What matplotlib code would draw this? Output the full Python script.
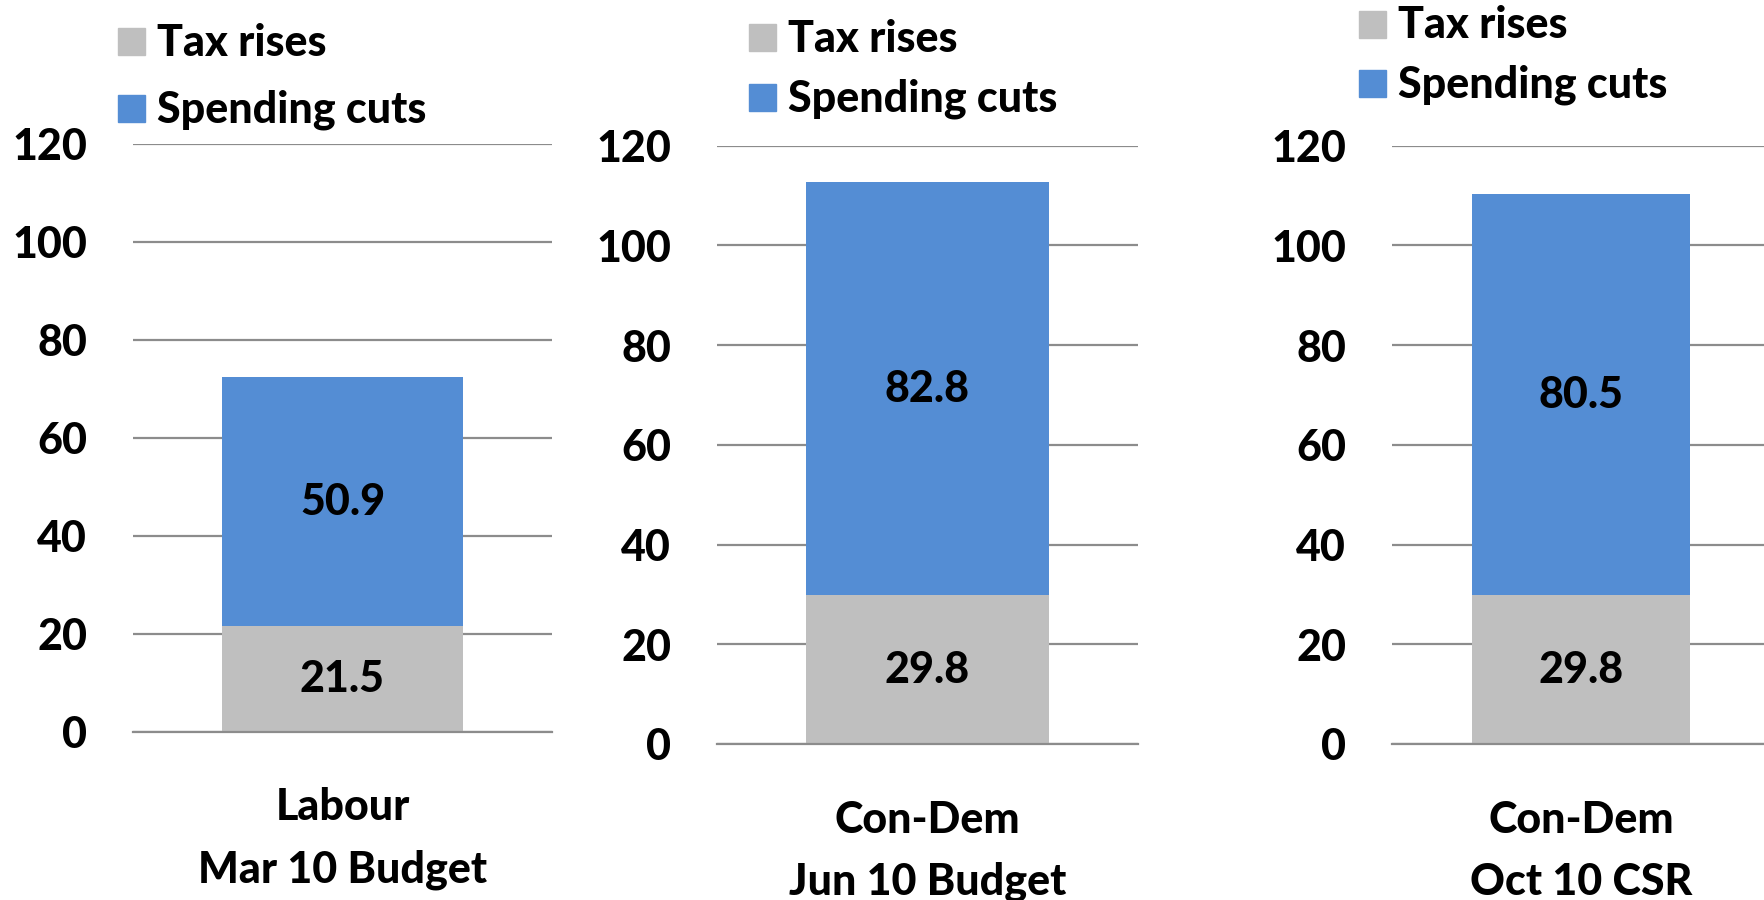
import matplotlib
matplotlib.use("Agg")
import matplotlib.pyplot as plt
from matplotlib.patches import Rectangle

plt.rcParams['font.family'] = ['Lato', 'DejaVu Sans']

categories = ["Labour\nMar 10 Budget", "Con-Dem\nJun 10 Budget", "Con-Dem\nOct 10 CSR"]
tax_rises = [21.5, 29.8, 29.8]
spending_cuts = [50.9, 82.8, 80.5]
series_names = ["Tax rises", "Spending cuts"]
yticks = [0, 20, 40, 60, 80, 100, 120]

GRAY = "#BFBFBF"
BLUE = "#548DD4"
GRID = "#8C8C8C"
FS = 31
FW = 900

W, H = 1765, 900
fig = plt.figure(figsize=(W / 100, H / 100), dpi=100)

# axes boxes in pixels: left, right, top(120), bottom(0)
boxes = [(133, 552, 143.7, 731.7), (717, 1138, 145.5, 744), (1392, 1770, 145.5, 744)]
# legend: square left x, text x, tax square top y, spending square top y
legends = [(118, 157, 28, 95), (749, 788, 24, 84), (1359, 1398, 11, 70)]

for i in range(3):
    l, r, t, b = boxes[i]
    ax = fig.add_axes([l / W, 1 - b / H, (r - l) / W, (b - t) / H])
    ax.set_xlim(-0.5, 0.5)
    ax.set_ylim(0, 120)
    for s in ax.spines.values():
        s.set_visible(False)
    ax.set_yticks(yticks)
    ax.set_yticklabels([str(v) for v in yticks], fontsize=FS, fontweight=FW)
    ax.yaxis.grid(True, color=GRID, linewidth=1.6, zorder=0)
    ax.set_axisbelow(True)
    ax.tick_params(axis='y', length=0, pad=33)
    ax.tick_params(axis='x', length=0, pad=40)
    ax.set_xticks([0])
    ax.set_xticklabels([categories[i]], fontsize=FS, fontweight=FW, linespacing=1.67)
    ax.axhline(0, color=GRID, linewidth=1.6, zorder=3, clip_on=False)
    b1 = ax.bar([0], [tax_rises[i]], width=0.575, color=GRAY, zorder=2)
    b2 = ax.bar([0], [spending_cuts[i]], bottom=[tax_rises[i]], width=0.575, color=BLUE, zorder=2)
    ax.bar_label(b1, labels=[f"{tax_rises[i]:.1f}"], label_type='center', fontsize=FS, fontweight=FW)
    ax.bar_label(b2, labels=[f"{spending_cuts[i]:.1f}"], label_type='center', fontsize=FS, fontweight=FW)

    sx, tx, ty1, ty2 = legends[i]
    sq = 27
    for ty, col, name in [(ty1, GRAY, series_names[0]), (ty2, BLUE, series_names[1])]:
        fig.add_artist(Rectangle((sx / W, 1 - (ty + sq) / H), sq / W, sq / H,
                                 transform=fig.transFigure, color=col))
        fig.text(tx / W, 1 - (ty + sq / 2 + 1) / H, name, fontsize=FS, fontweight=FW,
                 va='center', ha='left')

fig.savefig("out.png", dpi=100)
